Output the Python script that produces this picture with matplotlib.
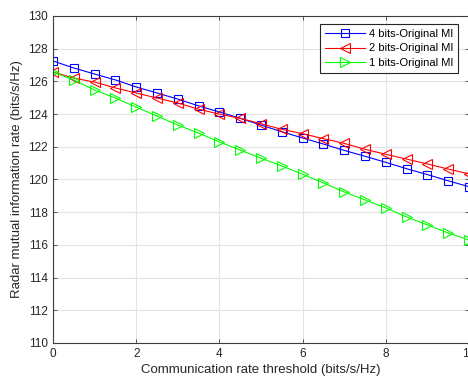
import matplotlib.pyplot as plt
import numpy as np

plt.rcParams['font.family'] = ['Liberation Sans', 'DejaVu Sans']

# communication rate threshold (bits/s/Hz)
rate = np.arange(0, 10.5, 0.5)

# radar mutual information rate (bits/s/Hz)
mi_4bits = [127.25, 126.82, 126.45, 126.09, 125.66, 125.29, 124.92, 124.5, 124.13, 123.74,
            123.33, 122.92, 122.54, 122.17, 121.78, 121.42, 121.05, 120.66, 120.3, 119.92, 119.56]
mi_2bits = [126.57, 126.2, 125.96, 125.6, 125.29, 124.98, 124.68, 124.3, 124.0, 123.74,
            123.41, 123.07, 122.8, 122.5, 122.21, 121.85, 121.54, 121.25, 120.95, 120.64, 120.34]
mi_1bits = [126.57, 126.09, 125.47, 124.98, 124.43, 123.88, 123.33, 122.84, 122.3, 121.8,
            121.3, 120.83, 120.32, 119.79, 119.24, 118.75, 118.26, 117.71, 117.22, 116.73, 116.3]

fig = plt.figure(figsize=(4.68, 3.87), dpi=100)
ax = fig.add_axes([53 / 468, 1 - 343 / 387, 416 / 468, 327 / 387])

ax.plot(rate, mi_4bits, '-s', color='#0000ff', lw=0.8, ms=5.5, mfc='none', mew=0.8,
        label='4 bits-Original MI')
ax.plot(rate, mi_2bits, '-<', color='#ff0000', lw=0.8, ms=7, mfc='none', mew=0.8,
        label='2 bits-Original MI')
ax.plot(rate, mi_1bits, '->', color='#00ff00', lw=0.8, ms=7, mfc='none', mew=0.8,
        label='1 bits-Original MI')

ax.set_xlim(0, 10)
ax.set_ylim(110, 130)
ax.set_xticks(np.arange(0, 11, 2))
ax.set_yticks(np.arange(110, 131, 2))
ax.grid(True, color='#e3e3e3', lw=0.8)
ax.set_axisbelow(True)
for s in ax.spines.values():
    s.set_color('#3c3c3c')
    s.set_linewidth(0.8)
ax.tick_params(direction='in', length=3, width=0.6, colors='#3c3c3c',
               labelsize=8.5, labelcolor='#262626', top=True, right=True)

ax.set_xlabel('Communication rate threshold (bits/s/Hz)', fontsize=9.5, color='#262626', labelpad=3)
ax.set_ylabel('Radar mutual information rate (bits/s/Hz)', fontsize=9.5, color='#262626', labelpad=4)

leg = ax.legend(loc='upper right', bbox_to_anchor=(458 / 468, 1 - 24 / 387),
                bbox_transform=fig.transFigure, fontsize=8, handlelength=3.6,
                fancybox=False, framealpha=1, borderpad=0.45, labelspacing=0.4,
                handletextpad=0.3, borderaxespad=0)
leg.get_frame().set_edgecolor('#262626')
leg.get_frame().set_linewidth(0.8)

fig.savefig('out.png', dpi=100)
